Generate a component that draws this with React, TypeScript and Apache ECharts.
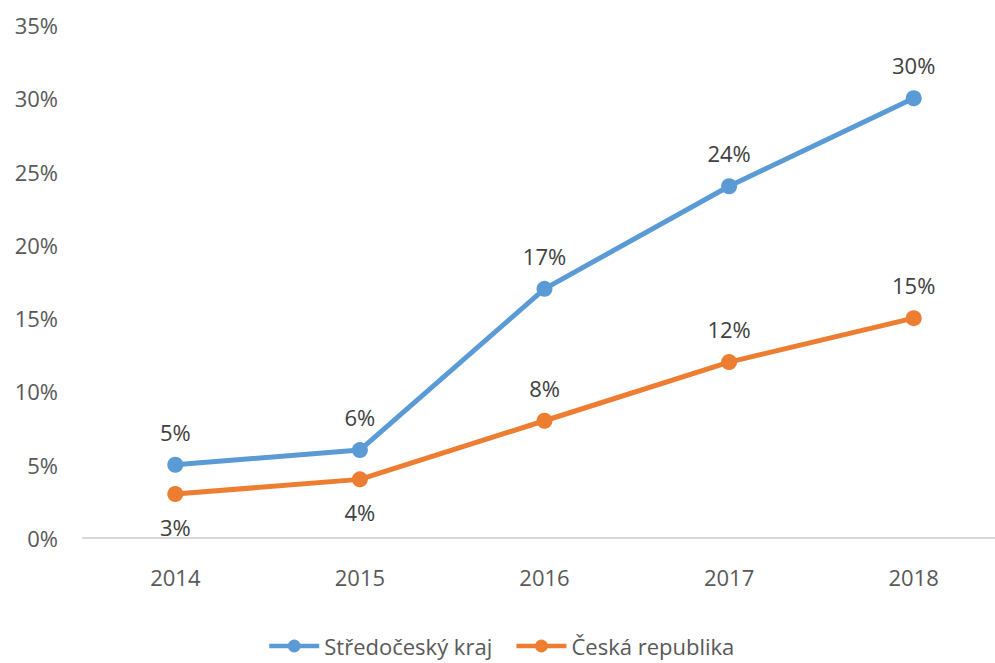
import React, { useEffect, useRef } from "react";
import * as echarts from "echarts";

const categories = ["2014", "2015", "2016", "2017", "2018"];
const stredocesky = [5, 6, 17, 24, 30];
const ceska = [3, 4, 8, 12, 15];
const ceskaLabelPos = ["bottom", "bottom", "top", "top", "top"];
const seriesNames = ["Středočeský kraj", "Česká republika"];

const FONT = "'Open Sans', sans-serif";

export default function App() {
  const ref = useRef<HTMLDivElement>(null);
  useEffect(() => {
    if (!ref.current) return;
    const chart = echarts.init(ref.current, null, { renderer: "svg" });
    const label = {
      show: true,
      position: "top",
      distance: 14,
      color: "#404040",
      fontSize: 22,
      fontFamily: FONT,
      formatter: (p: any) => p.value + "%",
    };
    chart.setOption({
      animation: false,
      textStyle: { fontFamily: FONT },
      grid: {
        left: 83,
        width: 923,
        top: 25,
        height: 513,
        containLabel: false,
        outerBoundsMode: "none",
      },
      legend: {
        data: seriesNames,
        top: 630,
        left: 262,
        itemWidth: 50,
        itemHeight: 16,
        itemGap: 22,
        lineStyle: { width: 4.5 },
        textStyle: { color: "#595959", fontSize: 22, fontFamily: FONT },
      },
      xAxis: {
        type: "category",
        data: categories,
        boundaryGap: true,
        axisLine: { lineStyle: { color: "#d9d9d9", width: 2 } },
        axisTick: { show: false },
        axisLabel: { color: "#595959", fontSize: 22, margin: 28, fontFamily: FONT },
      },
      yAxis: {
        type: "value",
        min: 0,
        max: 35,
        interval: 5,
        axisLine: { show: false },
        axisTick: { show: false },
        splitLine: { show: false },
        axisLabel: {
          color: "#595959",
          fontSize: 22,
          margin: 25,
          fontFamily: FONT,
          formatter: (v: number) => v + "%",
        },
      },
      series: [
        {
          name: seriesNames[0],
          type: "line",
          data: stredocesky,
          color: "#5B9BD5",
          symbol: "circle",
          symbolSize: 16,
          lineStyle: { width: 5 },
          label,
        },
        {
          name: seriesNames[1],
          type: "line",
          data: ceska.map((v, i) => ({
            value: v,
            label: { position: ceskaLabelPos[i] },
          })),
          color: "#ED7D31",
          symbol: "circle",
          symbolSize: 16,
          lineStyle: { width: 5 },
          label,
        },
      ],
    });
    return () => chart.dispose();
  }, []);
  return (
    <div
      ref={ref}
      style={{ position: "absolute", left: 0, top: 0, width: 995, height: 663, background: "#fff" }}
    />
  );
}
